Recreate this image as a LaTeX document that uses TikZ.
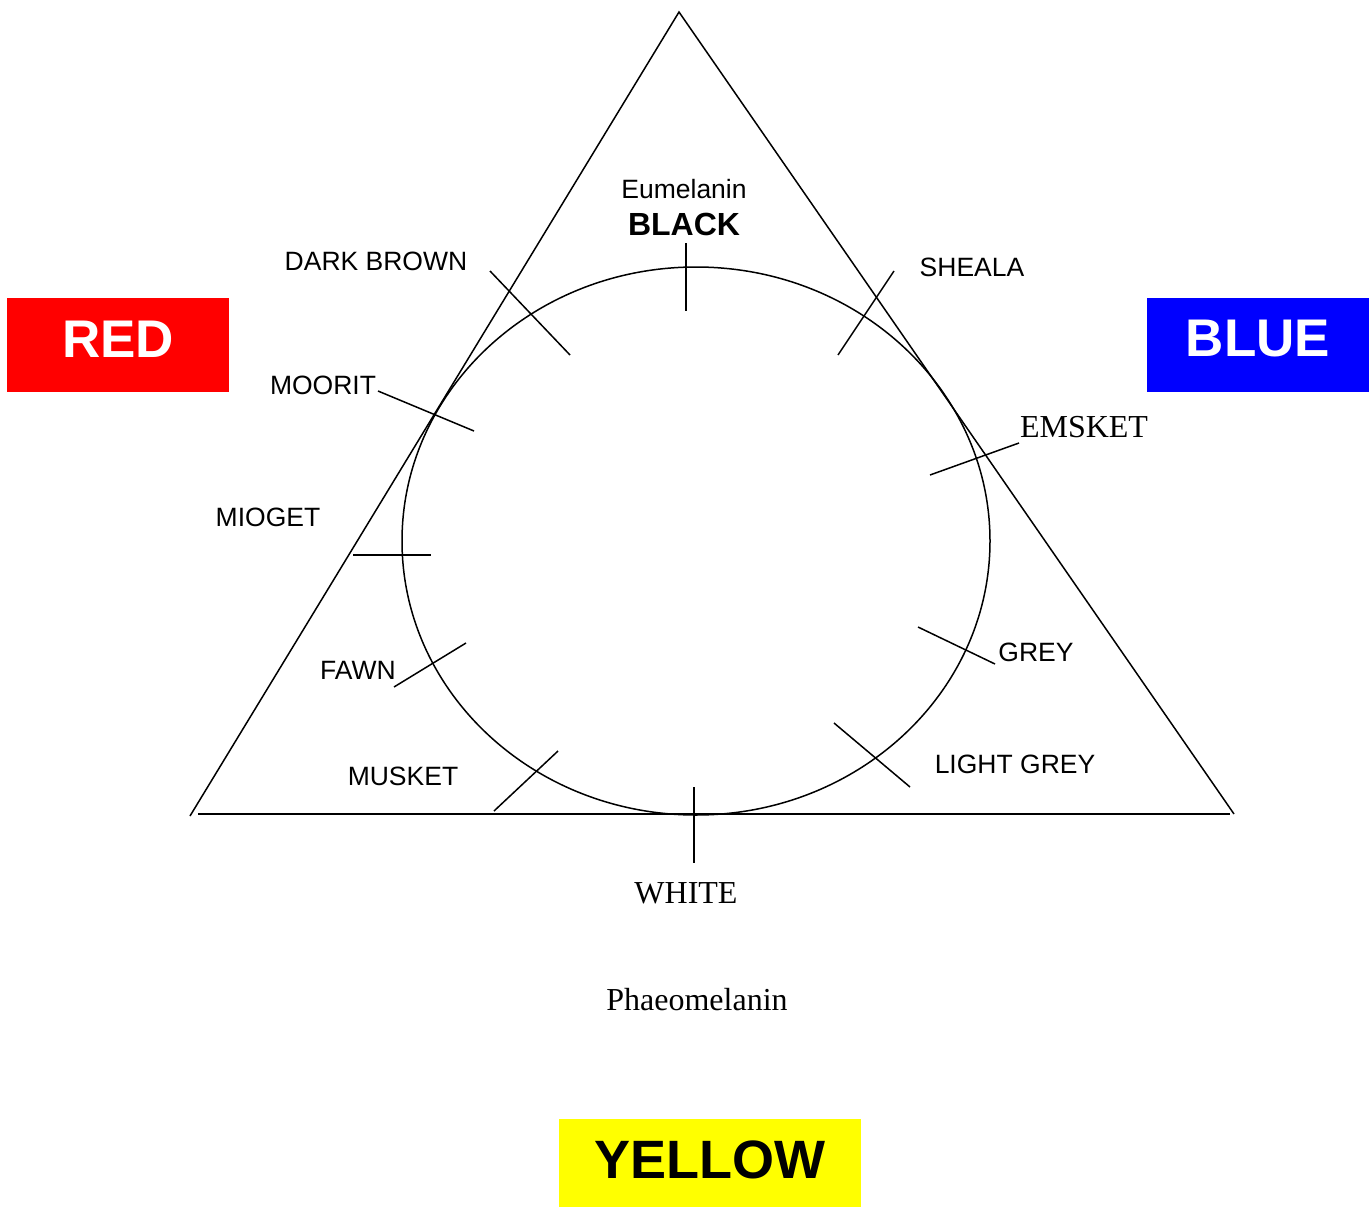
\documentclass[tikz,border=0pt]{standalone}
\usepackage{fontspec}
\setmainfont{Liberation Serif}
\setsansfont{Liberation Sans}
\definecolor{pRed}{RGB}{255,0,0}
\definecolor{pBlue}{RGB}{0,0,255}
\definecolor{pYellow}{RGB}{255,255,0}
\begin{document}
\begin{tikzpicture}[x=1pt,y=-1pt,
  ln/.style={line width=1.5pt,black},
  lab/.style={font=\sffamily\fontsize{26.5}{30}\selectfont,inner sep=0pt},
  slab/.style={font=\rmfamily\fontsize{32}{36}\selectfont,inner sep=0pt},
  colbox/.style={inner sep=0pt,minimum width=222pt,minimum height=94pt},
  boxtext/.style={inner sep=0pt,font=\sffamily\bfseries\fontsize{53}{60}\selectfont}]
\useasboundingbox[fill=white] (0,0) rectangle (1371,1207);
% triangle
\coordinate (apex) at (679,12);
\coordinate (bl) at (190,816);
\coordinate (br) at (1234,814);
\coordinate (bls) at (198,814);
\coordinate (bre) at (1230,814);
\draw[ln] (bl) -- (apex) -- (br);
\draw[ln] (bls) -- (bre);
% circle
\draw[ln] (696,541) ellipse [x radius=294, y radius=274];
% ticks
\draw[ln] (686,243) -- (686,311);
\draw[ln] (894,271) -- (838,355);
\draw[ln] (1019,443) -- (930,475);
\draw[ln] (918,627) -- (995,664);
\draw[ln] (834,723) -- (910,787);
\draw[ln] (694,787) -- (694,863);
\draw[ln] (558,751) -- (494,811);
\draw[ln] (466,643) -- (394,687);
\draw[ln] (353,555) -- (431,555);
\draw[ln] (378,391) -- (474,431);
\draw[ln] (490,271) -- (570,355);
% labels
\node[lab] (eu) at (684,189) {Eumelanin};
\node[lab,font=\sffamily\bfseries\fontsize{32}{36}\selectfont] (black) at (684,224) {BLACK};
\node[lab] (db) at (376,261) {DARK BROWN};
\node[lab] (sh) at (972,267) {SHEALA};
\node[lab] (mo) at (323,385) {MOORIT};
\node[slab] (em) at (1084,427) {EMSKET};
\node[lab] (mi) at (268,517) {MIOGET};
\node[lab] (fa) at (358,670) {FAWN};
\node[lab] (gr) at (1036,652) {GREY};
\node[lab] (mu) at (403,776) {MUSKET};
\node[lab] (lg) at (1015,764) {LIGHT GREY};
\node[slab] (wh) at (686,893) {WHITE};
\node[slab] (ph) at (697,1000) {Phaeomelanin};
% colour boxes
\node[colbox,fill=pRed] (red) at (118,345) {};
\node[boxtext,text=white] (redt) at ([yshift=6pt]red.center) {RED};
\node[colbox,fill=pBlue] (blue) at (1258,345) {};
\node[boxtext,text=white] (bluet) at ([yshift=6pt]blue.center) {BLUE};
\node[colbox,fill=pYellow,minimum width=302pt,minimum height=88pt] (yel) at (710,1163) {};
\node[boxtext,font=\sffamily\bfseries\fontsize{54}{60}\selectfont] (yelt) at ([yshift=3pt]yel.center) {YELLOW};
\end{tikzpicture}
\end{document}
